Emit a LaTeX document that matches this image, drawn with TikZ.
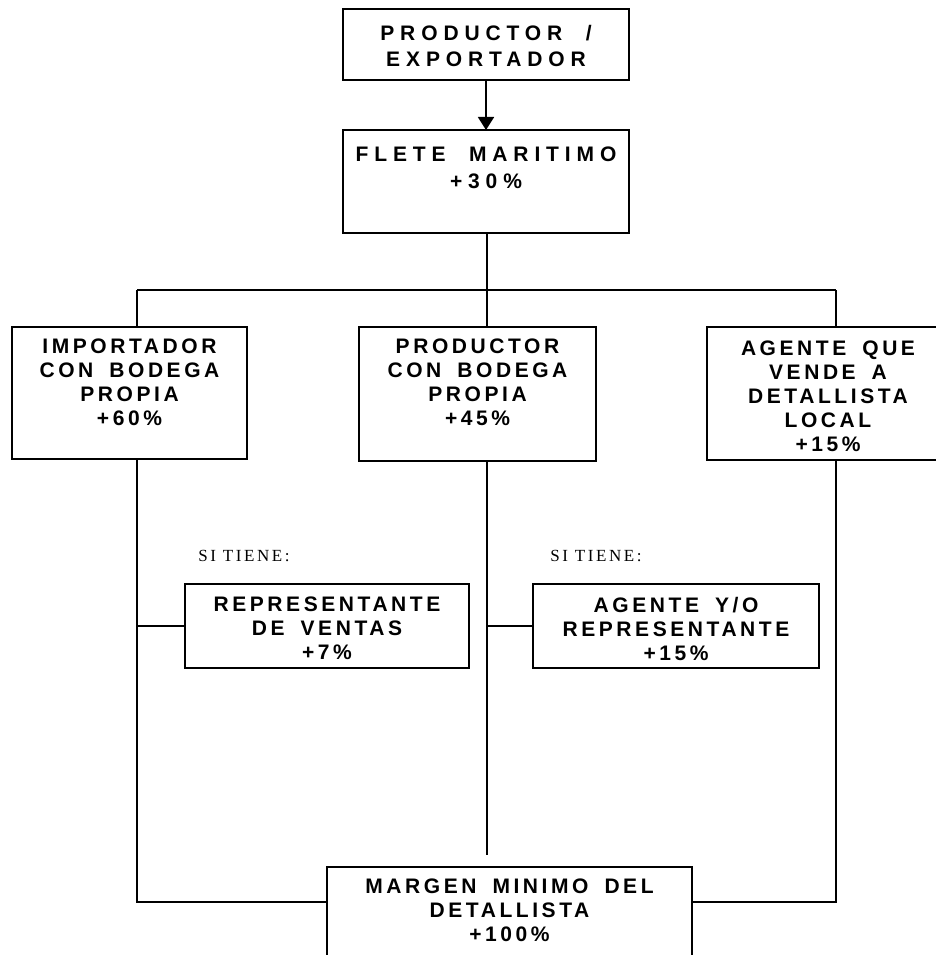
\documentclass[tikz,border=0pt]{standalone}
\usepackage{fontspec}
\setmainfont{Liberation Serif}
\newfontfamily\blockfont[LetterSpace=17,WordSpace=1.7]{Liberation Sans}
\newfontfamily\wideblockfont[LetterSpace=28,WordSpace=2.0]{Liberation Sans}
\newfontfamily\notefont[LetterSpace=15]{Liberation Serif}
\usetikzlibrary{arrows.meta,positioning}

\begin{document}
\begin{tikzpicture}[
        x=1pt, y=-1pt,
        line width=1.8pt,
        Block/.style={draw, rectangle, inner sep=0pt, outer sep=0pt},
        BlockText/.style={anchor=north, align=center, inner sep=0pt,
            font=\blockfont\bfseries\fontsize{21}{24}\selectfont},
        WideText/.style={BlockText, font=\wideblockfont\bfseries\fontsize{21}{26.5}\selectfont},
        Note/.style={inner sep=0pt, font=\notefont\fontsize{17}{20}\selectfont},
    ]
    \useasboundingbox (0,0) rectangle (935,955);

    % top of the chain
    \node [Block, minimum width=286pt, minimum height=71pt,
           label={[WideText, yshift=-15pt]north:{PRODUCTOR /\\EXPORTADOR}}] (top) at (486,44.5) {};
    \node [Block, minimum width=286pt, minimum height=103pt, below=50pt of top,
           label={[WideText, yshift=-16pt]north:{FLETE MARITIMO\\+30\%}}] (flete) {};

    % three ways in
    \node [Block, minimum width=235pt, minimum height=132pt,
           label={[BlockText, yshift=-11pt]north:{IMPORTADOR\\CON BODEGA\\PROPIA\\+60\%}}] (imp) at (129.5,393) {};
    \node [Block, minimum width=237pt, minimum height=134pt,
           label={[BlockText, yshift=-11pt]north:{PRODUCTOR\\CON BODEGA\\PROPIA\\+45\%}}] (prod) at (477.5,394) {};
    \node [Block, minimum width=242pt, minimum height=133pt,
           label={[BlockText, yshift=-13pt]north:{AGENTE QUE\\VENDE A\\DETALLISTA\\LOCAL\\+15\%}}] (agente) at (828,393.5) {};

    \node [Note] (tiene1) at (244,556) {SI TIENE:};
    \node [Note] (tiene2) at (596,556) {SI TIENE:};

    \node [Block, minimum width=284pt, minimum height=84pt,
           label={[BlockText, yshift=-12pt]north:{REPRESENTANTE\\DE VENTAS\\+7\%}}] (rep) at (327,626) {};
    \node [Block, minimum width=286pt, minimum height=84pt,
           label={[BlockText, yshift=-12pt]north:{AGENTE Y/O\\REPRESENTANTE\\+15\%}}] (agrep) at (676,626) {};

    \node [Block, minimum width=365pt, minimum height=100pt,
           label={[BlockText, yshift=-11pt]north:{MARGEN MINIMO DEL\\DETALLISTA\\+100\%}}] (margen) at (509.5,917) {};

    \coordinate (busL) at (137,290);
    \coordinate (busR) at (836,290);
    \coordinate (trunk) at (487,290);
    \coordinate (lowL) at (137,902);
    \coordinate (lowR) at (836,902);
    \coordinate (trunkEnd) at (487,855);

    \draw [-{Triangle[length=13pt, width=16pt]}] (top.south) -- (flete.north);
    \draw (trunk |- flete.south) -- (trunk |- prod.north);
    \draw (busL) -- (busR);
    \draw (busL) -- (busL |- imp.north);
    \draw (busR) -- (busR |- agente.north);

    \draw (busL |- imp.south) -- (lowL) -- (lowL -| margen.west);
    \draw (busR |- agente.south) -- (lowR) -- (lowR -| margen.east);
    \draw (trunk |- prod.south) -- (trunkEnd);
    \draw (busL |- rep.west) -- (rep.west);
    \draw (trunk |- agrep.west) -- (agrep.west);
\end{tikzpicture}
\end{document}
